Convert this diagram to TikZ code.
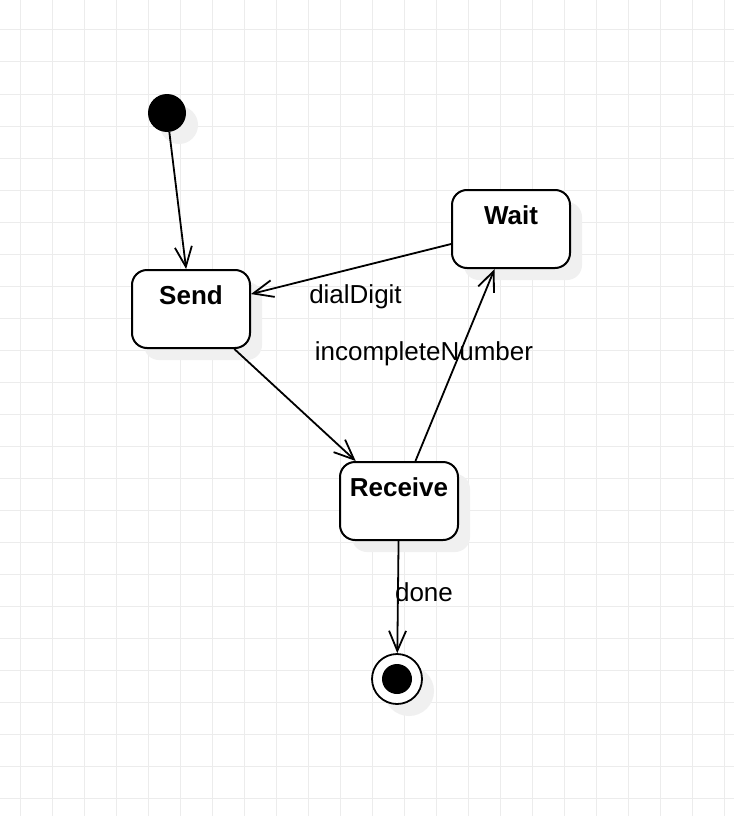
\documentclass[tikz,border=0pt]{standalone}
\usepackage{fontspec}
\setmainfont{Liberation Sans}
\usetikzlibrary{arrows.meta,shadows}
\definecolor{gridgray}{RGB}{236,236,236}
\definecolor{shadowgray}{RGB}{240,240,240}
\newcommand{\diagfont}{\fontsize{26}{31}\selectfont}
\begin{document}
\begin{tikzpicture}[x=1pt, y=-1pt, >={Straight Barb[length=20pt,width=17pt]},
  shade/.style={drop shadow={shadow xshift=12pt, shadow yshift=-12pt, fill=shadowgray, opacity=1}},
  state/.style={draw, line width=2pt, rounded corners=15pt, fill=white, shade,
    minimum width=118pt, inner sep=0pt, text height=34.5pt, text depth=43.5pt,
    font=\diagfont\bfseries},
  trans/.style={->, line width=1.8pt},
  lbl/.style={anchor=base, inner sep=0pt, font=\diagfont}]
\useasboundingbox[fill=white] (0,0) rectangle (734,816);
% Raster
\foreach \gx in {20,52,...,724} \draw[gridgray, line width=1pt] (\gx,0) -- (\gx,816);
\foreach \gy in {30,62,...,798} \draw[gridgray, line width=1pt] (0,\gy) -- (734,\gy);
% Zustaende
\node[circle, fill=black, minimum size=38pt, inner sep=0pt, shade] (init) at (167,113) {};
\node[state] (send) at (191,309) {Send};
\node[state] (wait) at (511,229) {Wait};
\node[state] (receive) at (399,501) {Receive};
\node[circle, draw, line width=1.8pt, fill=white, minimum size=50pt, inner sep=0pt, shade,
  path picture={\fill[black] (path picture bounding box.center) circle (15pt);}] (final) at (397,679) {};
% Uebergaenge
\draw[trans] (init) -- (send);
\draw[trans] (wait) -- (send);
\draw[trans] (send) -- (receive);
\draw[trans] (receive) -- (wait);
\draw[trans] (receive) -- (final);
% Beschriftungen
\node[lbl] (dial) at (355.5,303.3) {dialDigit};
\node[lbl] (incomplete) at (424,360) {incompleteNumber};
\node[lbl] (done) at (424,601.7) {done};
\end{tikzpicture}
\end{document}
